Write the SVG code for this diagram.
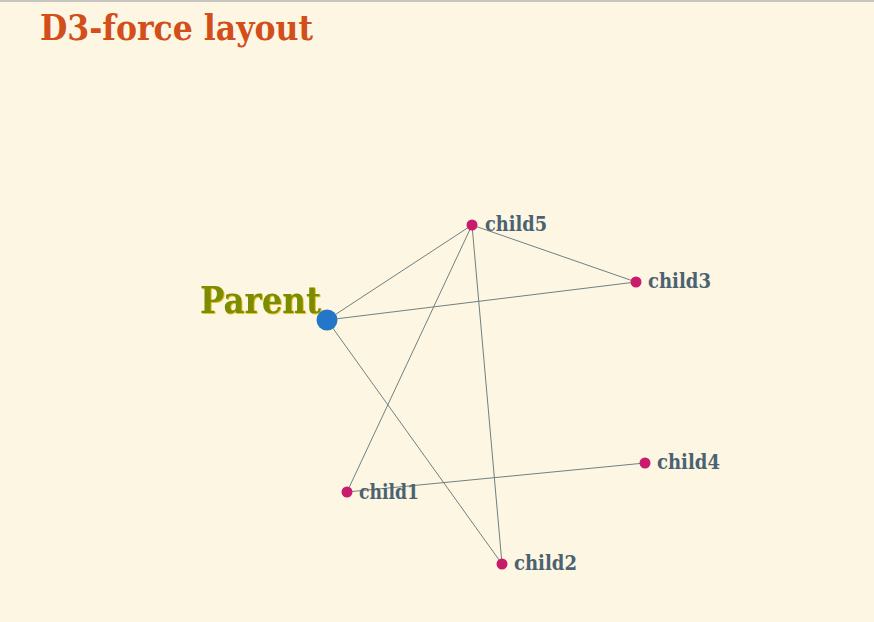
<svg xmlns="http://www.w3.org/2000/svg" width="874" height="622" viewBox="0 0 874 622">
<defs>
<filter id="shadow" x="-5%" y="-5%" width="110%" height="120%">
<feDropShadow dx="0.8" dy="0.8" stdDeviation="0.3" flood-color="#e0b400" flood-opacity="1"/>
</filter>
</defs>
<style>
.bg{fill:#fdf6e3}
.link{stroke:#6f8080;stroke-width:1;fill:none}
.child circle{fill:#c81b6b}
.child text{font-family:"DejaVu Serif Condensed","DejaVu Serif",serif;font-weight:bold;font-size:21px;fill:#4b6271}
.title{font-family:"DejaVu Serif Condensed","DejaVu Serif",serif;font-weight:bold;font-size:36px;fill:#d24e1a}
.ptext{font-family:"DejaVu Serif Condensed","DejaVu Serif",serif;font-weight:bold;font-size:37px;fill:#7a8c00}
</style>
<rect class="bg" x="0" y="0" width="874" height="622"/>
<line x1="0" y1="1" x2="874" y2="1" stroke="#b4b4b4" stroke-width="1.5"/>
<text class="title" x="40" y="40" textLength="273" lengthAdjust="spacingAndGlyphs">D3-force layout</text>
<g id="links">
<line class="link" x1="327" y1="320" x2="472" y2="225"/>
<line class="link" x1="327" y1="320" x2="636" y2="282"/>
<line class="link" x1="327" y1="320" x2="502" y2="564"/>
<line class="link" x1="472" y1="225" x2="636" y2="282"/>
<line class="link" x1="472" y1="225" x2="347" y2="492"/>
<line class="link" x1="472" y1="225" x2="502" y2="564"/>
<line class="link" x1="347" y1="492" x2="645" y2="463"/>
</g>
<g id="parent">
<text class="ptext" x="200" y="313" textLength="121" lengthAdjust="spacingAndGlyphs" filter="url(#shadow)">Parent</text>
<circle cx="327" cy="320" r="10.5" fill="#2477c8"/>
</g>
<g id="child5" class="child"><circle cx="472" cy="225" r="5.5"/><text x="485" y="231" textLength="62" lengthAdjust="spacingAndGlyphs">child5</text></g>
<g id="child3" class="child"><circle cx="636" cy="282" r="5.5"/><text x="648" y="288" textLength="63" lengthAdjust="spacingAndGlyphs">child3</text></g>
<g id="child4" class="child"><circle cx="645" cy="463" r="5.5"/><text x="657" y="469" textLength="63" lengthAdjust="spacingAndGlyphs">child4</text></g>
<g id="child1" class="child"><circle cx="347" cy="492" r="5.5"/><text x="359" y="499" textLength="60" lengthAdjust="spacingAndGlyphs">child1</text></g>
<g id="child2" class="child"><circle cx="502" cy="564" r="5.5"/><text x="514" y="570" textLength="63" lengthAdjust="spacingAndGlyphs">child2</text></g>
</svg>
